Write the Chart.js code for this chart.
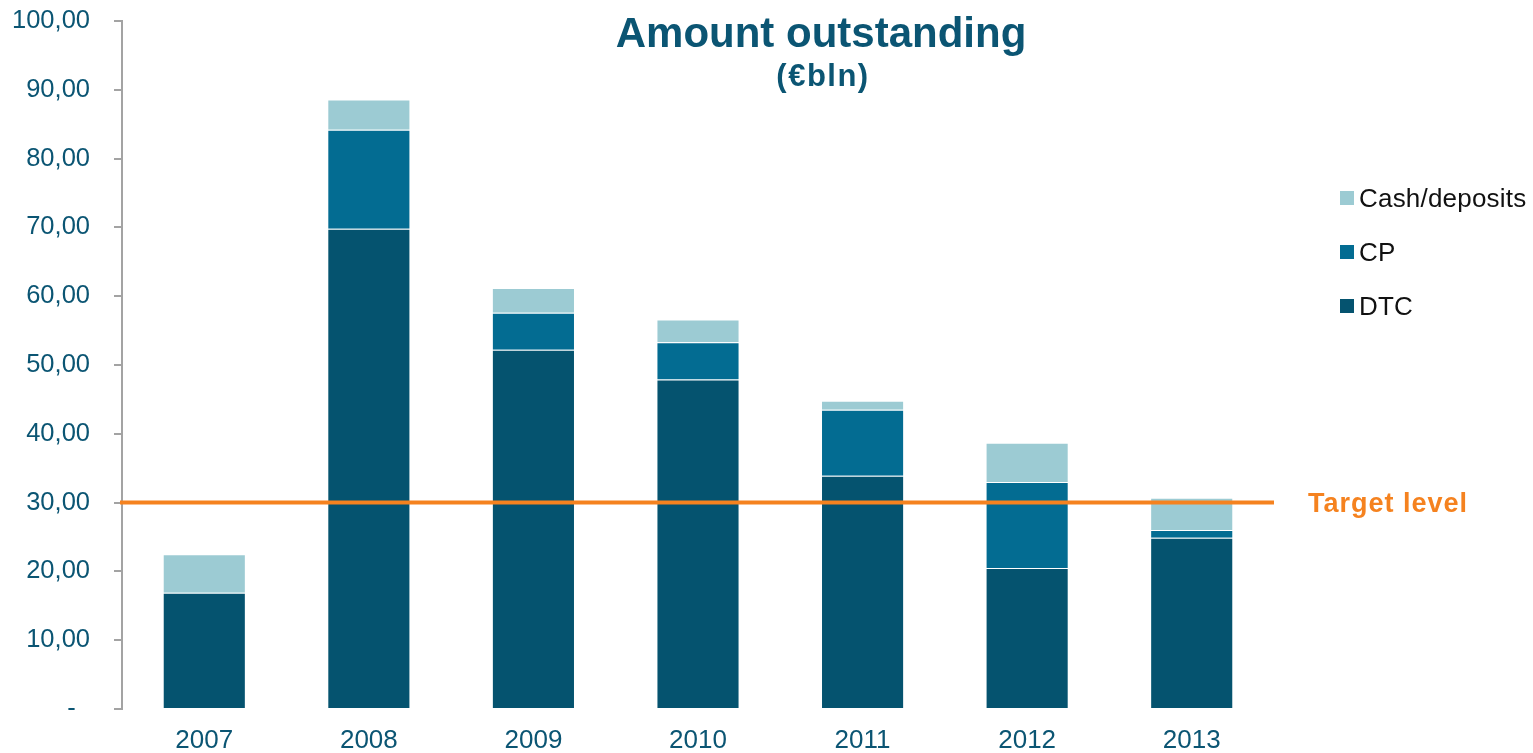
<!DOCTYPE html>
<html lang="en">
<head>
  <meta charset="UTF-8">
  <title>Amount outstanding</title>
  <script src="https://cdn.jsdelivr.net/npm/chart.js"></script>
  <style>
    body {
      margin: 0;
      background: #fff;
      font-family: "Liberation Sans", Arial, sans-serif;
    }

    #wrap {
      position: relative;
      width: 1533px;
      height: 753px;
    }

    /* legend on the right, top item first */
    #legend {
      position: absolute;
      left: 1340px;
      top: 184px;
      list-style: none;
      margin: 0;
      padding: 0;
    }

    #legend li {
      display: flex;
      align-items: center;
      height: 28px;
      margin-bottom: 26px;
      font-size: 26px;
      letter-spacing: 0.2px;
      color: #111;
    }

    #legend span {
      display: inline-block;
      width: 14px;
      height: 14px;
      margin-right: 5px;
    }
  </style>
</head>
<body>
  <div id="wrap">
    <canvas id="chart"></canvas>
    <ul id="legend"></ul>
  </div>

  <script>
    // data (€ bln)
    const years = ['2007', '2008', '2009', '2010', '2011', '2012', '2013'];
    const dtc = [16.9, 69.8, 52.2, 47.9, 33.9, 20.5, 24.9];
    const cp = [0, 14.4, 5.4, 5.4, 9.6, 12.5, 1.1];
    const cash = [5.6, 4.4, 3.6, 3.3, 1.3, 5.7, 4.7];
    const targetLevel = 30;

    const seriesNames = ['DTC', 'CP', 'Cash/deposits'];
    const seriesColors = ['#05536f', '#036c92', '#9ccbd3'];

    const titleText = 'Amount outstanding';
    const subtitleText = '(€bln)';
    const targetText = 'Target level';

    const FONT = '"Liberation Sans", Arial, sans-serif';
    const TEAL = '#0b5573';
    const ORANGE = '#f5821f';

    // number format: 10,00 / zero shown as a dash
    function formatTick(v) {
      if (v === 0) return '-  ';
      return v.toFixed(2).replace('.', ',');
    }

    // target line, its label and the heading drawn on top of the bars
    const overlay = {
      id: 'overlay',
      afterDatasetsDraw(chart) {
        const { ctx, chartArea, scales } = chart;
        const y = scales.y.getPixelForValue(targetLevel);

        ctx.save();
        ctx.strokeStyle = ORANGE;
        ctx.lineWidth = 4;
        ctx.beginPath();
        ctx.moveTo(chartArea.left - 2, y);
        ctx.lineTo(chartArea.right, y);
        ctx.stroke();

        ctx.fillStyle = ORANGE;
        ctx.font = 'bold 27px ' + FONT;
        ctx.letterSpacing = '1px';
        ctx.textAlign = 'left';
        ctx.textBaseline = 'middle';
        ctx.fillText(targetText, chartArea.right + 34, y + 2);

        ctx.fillStyle = TEAL;
        ctx.textAlign = 'center';
        ctx.textBaseline = 'alphabetic';
        ctx.letterSpacing = '0px';
        ctx.font = 'bold 42px ' + FONT;
        ctx.fillText(titleText, 821, 47);
        ctx.letterSpacing = '1.5px';
        ctx.font = 'bold 31px ' + FONT;
        ctx.fillText(subtitleText, 823, 86);
        ctx.restore();
      }
    };

    const ctx = document.getElementById('chart').getContext('2d');
    const chart = new Chart(ctx, {
      type: 'bar',
      data: {
        labels: years,
        datasets: [dtc, cp, cash].map((values, i) => ({
          label: seriesNames[i],
          data: values,
          backgroundColor: seriesColors[i],
          borderColor: 'rgba(255,255,255,0.15)',
          borderWidth: 1,
          categoryPercentage: 1,
          barPercentage: 0.505
        }))
      },
      options: {
        responsive: true,
        maintainAspectRatio: false,
        animation: false,
        layout: {
          padding: { top: 21, left: 13, right: 259, bottom: 0 }
        },
        plugins: {
          legend: { display: false },
          title: { display: false },
          tooltip: { enabled: false }
        },
        scales: {
          x: {
            stacked: true,
            afterFit(scale) {
              scale.height = 44;
            },
            grid: { display: false, drawTicks: false },
            border: { display: false },
            ticks: {
              color: TEAL,
              padding: 19,
              font: { family: FONT, size: 26, lineHeight: 1 }
            }
          },
          y: {
            stacked: true,
            min: 0,
            max: 100,
            afterFit(scale) {
              scale.width = 109;
              scale.paddingTop = 0;
              scale.paddingBottom = 0;
            },
            grid: {
              drawOnChartArea: false,
              drawTicks: true,
              tickLength: 8,
              color: '#a3a3a3',
              lineWidth: 2
            },
            border: { display: true, color: '#a3a3a3', width: 2 },
            ticks: {
              stepSize: 10,
              color: TEAL,
              padding: 24,
              font: { family: FONT, size: 25.5 },
              callback: formatTick
            }
          }
        }
      },
      plugins: [overlay]
    });

    // legend, stacked order (top segment first)
    const legend = document.getElementById('legend');
    for (let i = seriesNames.length - 1; i >= 0; i--) {
      const li = document.createElement('li');
      li.innerHTML = `<span style="background:${seriesColors[i]}"></span>${seriesNames[i]}`;
      legend.appendChild(li);
    }
  </script>
</body>
</html>
